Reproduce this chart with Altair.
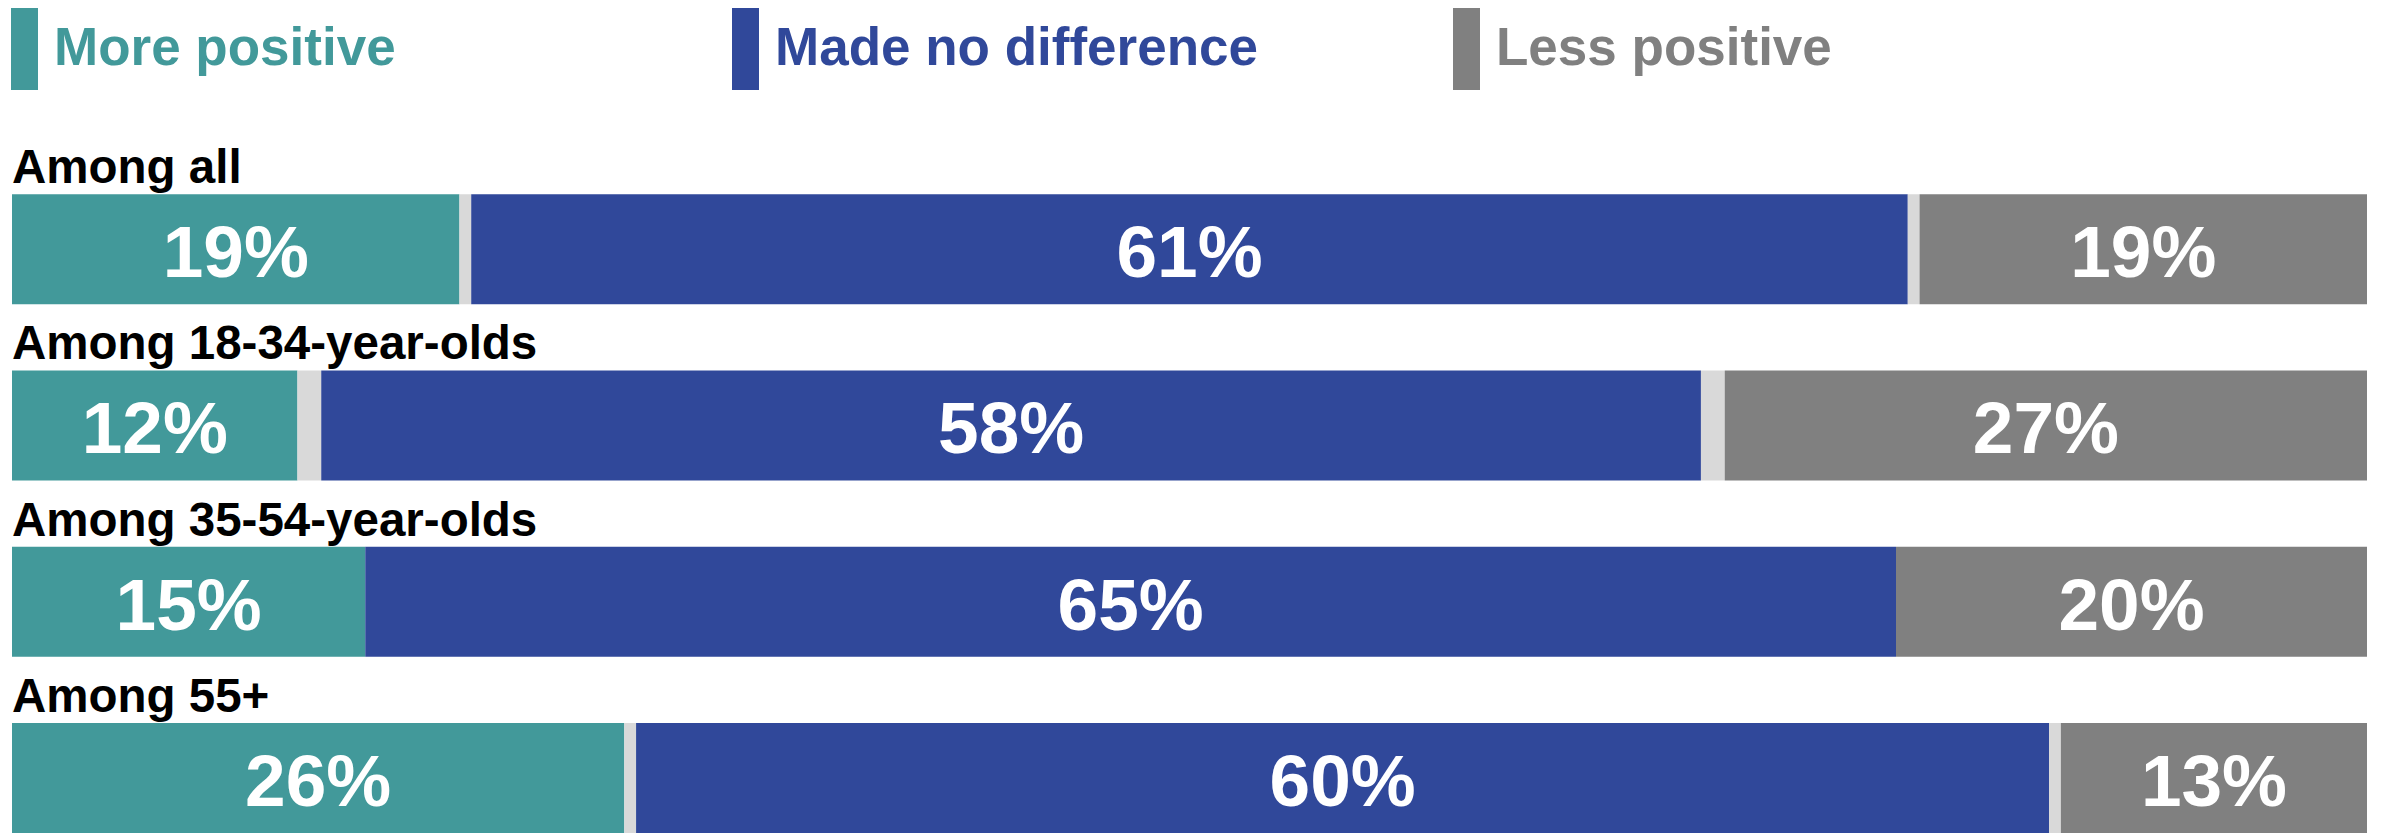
import altair as alt
import pandas as pd

# ---- data ----
groups = ["Among all", "Among 18-34-year-olds", "Among 35-54-year-olds", "Among 55+"]
more_positive = [19, 12, 15, 26]
made_no_difference = [61, 58, 65, 60]
less_positive = [19, 27, 20, 13]
dont_know = [1, 2, 0, 1]  # light-grey remainder, drawn half on each side of the middle segment

series_names = ["More positive", "Made no difference", "Less positive"]
series_colors = ["#42999A", "#30489A", "#808080"]
spacer_name = "Don't know"
spacer_color = "#D9D9D9"

FONT = "Liberation Sans"

rows = []
for i, g in enumerate(groups):
    parts = [
        ("More positive", more_positive[i], f"{more_positive[i]}%"),
        (spacer_name, dont_know[i] / 2, ""),
        ("Made no difference", made_no_difference[i], f"{made_no_difference[i]}%"),
        (spacer_name, dont_know[i] / 2, ""),
        ("Less positive", less_positive[i], f"{less_positive[i]}%"),
    ]
    for k, (s, v, lab) in enumerate(parts):
        rows.append(dict(group=g, series=s, value=v, order=k, label=lab))
df = pd.DataFrame(rows)
label_df = pd.DataFrame({"group": groups})

xscale = alt.Scale(domain=[0, 1], nice=False, zero=False)
yscale = alt.Scale(paddingInner=0.376, paddingOuter=0.528, align=1)

base = (
    alt.Chart(df)
    .transform_joinaggregate(total="sum(value)", groupby=["group"])
    .transform_window(cum="sum(value)", sort=[alt.SortField("order")],
                      groupby=["group"], frame=[None, 0])
    .transform_calculate(
        x0="(datum.cum - datum.value) / datum.total",
        x1="datum.cum / datum.total",
        xm="(datum.cum - datum.value / 2) / datum.total",
    )
)

legend = alt.Legend(
    values=series_names,
    orient="none",
    legendX=-1,
    legendY=0,
    direction="horizontal",
    columns=3,
    gridAlign="all",
    columnPadding=195,
    symbolType="M-1,-1H-0.3415V1H-1Z",
    symbolSize=6724,
    symbolStrokeWidth=0,
    symbolOpacity=1,
    labelFont=FONT,
    labelFontSize=53,
    labelFontWeight="bold",
    labelColor={"expr": "scale('color', datum.value)"},
    labelOffset={"expr": "-39"},
    labelLimit=0,
    padding=0,
    title=None,
)

bars = base.mark_bar().encode(
    x=alt.X("x0:Q", scale=xscale, axis=None),
    x2="x1:Q",
    y=alt.Y("group:N", sort=groups, scale=yscale, axis=None),
    color=alt.Color(
        "series:N",
        scale=alt.Scale(domain=series_names + [spacer_name],
                        range=series_colors + [spacer_color]),
        legend=legend,
    ),
)

pct = base.transform_filter("datum.label != ''").mark_text(
    font=FONT, fontSize=73, fontWeight="bold", color="white",
    align="center", baseline="alphabetic", dy=28,
).encode(
    x=alt.X("xm:Q", scale=xscale, axis=None),
    y=alt.Y("group:N", sort=groups, scale=yscale, axis=None),
    text="label:N",
)

row_labels = alt.Chart(label_df).mark_text(
    font=FONT, fontSize=47.5, fontWeight="bold", color="black",
    align="left", baseline="alphabetic", dy=-11,
).encode(
    x=alt.datum(0),
    y=alt.Y("group:N", sort=groups, scale=yscale, axis=None, bandPosition=0),
    text="group:N",
)

chart = (
    alt.layer(bars, pct, row_labels)
    .properties(
        width=2355,
        height=825,
        padding={"left": 4, "top": 0, "right": 4, "bottom": 0},
        autosize=alt.AutoSizeParams(type="none"),
        background="white",
    )
    .configure_view(stroke=None)
)

chart.save("out.html", embed_options={"renderer": "svg", "actions": False})
